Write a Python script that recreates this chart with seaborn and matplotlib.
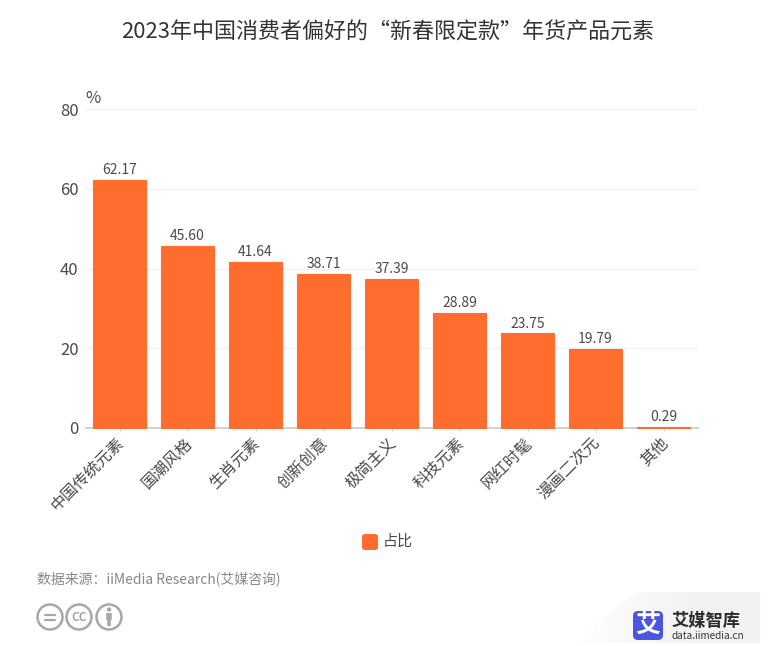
# -*- coding: utf-8 -*-
import numpy as np
import pandas as pd
import matplotlib
matplotlib.use('Agg')
import matplotlib.pyplot as plt
import seaborn as sns
from matplotlib.colors import LinearSegmentedColormap
from matplotlib.patches import Circle, FancyBboxPatch, Polygon
from matplotlib.transforms import ScaledTranslation

categories = ['中国传统元素', '国潮风格', '生肖元素', '创新创意', '极简主义',
              '科技元素', '网红时髦', '漫画二次元', '其他']
values = [62.17, 45.60, 41.64, 38.71, 37.39, 28.89, 23.75, 19.79, 0.29]
value_labels = ['62.17', '45.60', '41.64', '38.71', '37.39', '28.89', '23.75', '19.79', '0.29']
y_ticks = [0, 20, 40, 60, 80]

ORANGE = '#ff6d2e'
GRAY_ICON = '#a8a8a8'
W, H = 772, 646

sns.set_theme(style='white')
plt.rcParams['font.family'] = ['Noto Sans CJK SC', 'DejaVu Sans']

df = pd.DataFrame({'item': categories, 'share': values})

fig = plt.figure(figsize=(W / 100, H / 100), dpi=100, facecolor='white')
ax = fig.add_axes([85.5 / W, 1 - 428 / H, 612 / W, 319 / H])
sns.barplot(data=df, x='item', y='share', color=ORANGE, saturation=1, width=0.79,
            edgecolor=ORANGE, linewidth=0.8, zorder=3, ax=ax)
for bar in ax.patches:
    bar.set_clip_on(False)

ax.set_ylim(0, 80)
ax.set_xlim(-0.5, 8.5)
ax.set_yticks(y_ticks)
ax.set_xlabel('')
ax.set_ylabel('')
ax.yaxis.grid(True, color='#f1f1f1', linewidth=1)
ax.set_axisbelow(True)
sns.despine(ax=ax, left=True)
ax.spines['bottom'].set_color('#cccccc')
ax.spines['bottom'].set_zorder(1)
ax.tick_params(axis='y', length=0, labelsize=12, labelcolor='#4a4a4a', pad=5)
ax.tick_params(axis='x', bottom=True, length=3, width=0.8, color='#dddddd', pad=6)
shift = ScaledTranslation(2 / 100, 0, fig.dpi_scale_trans)
for lab in ax.get_xticklabels():
    lab.set_rotation(45)
    lab.set_ha('right')
    lab.set_va('center')
    lab.set_rotation_mode('anchor')
    lab.set_fontsize(11.5)
    lab.set_color('#4a4a4a')
    lab.set_transform(lab.get_transform() + shift)

for bar, txt in zip(ax.patches, value_labels):
    ax.annotate(txt, (bar.get_x() + bar.get_width() / 2, bar.get_height()),
                xytext=(0, 2), textcoords='offset points', ha='center', va='bottom',
                fontsize=10, color='#4a4a4a', zorder=4)

ax.text(0, 1.006, '%', transform=ax.transAxes, fontsize=12, color='#4a4a4a', ha='left', va='bottom')

fig.text(388 / W, 1 - 33 / H, '2023年中国消费者偏好的“新春限定款”年货产品元素',
         ha='center', va='center', fontsize=15.85, color='#333333')

# 图例
fig.add_artist(FancyBboxPatch((362 / W, 1 - 550 / H), 16 / W, 16 / H,
                              boxstyle='round,pad=0,rounding_size=0.004',
                              transform=fig.transFigure, fc=ORANGE, ec='none'))
fig.text(383 / W, 1 - 542 / H, '占比', ha='left', va='center', fontsize=10.8, color='#4a4a4a')

fig.text(37 / W, 1 - 579 / H, '数据来源：iiMedia Research(艾媒咨询)', ha='left', va='center',
         fontsize=10, color='#888888')

# 右下角和图标都放在一个像素坐标的覆盖层上
deco = fig.add_axes([0, 0, 1, 1], facecolor='none')

corner = Polygon([(575, 643), (622, 602), (640, 592), (760, 592), (760, 643)],
                 fc='none', ec='none', transform=deco.transData)
deco.add_patch(corner)
ramp = np.linspace(0, 1, 64).reshape(1, -1)
img = deco.imshow(ramp, extent=(575, 700, 643, 592), aspect='auto', zorder=1,
                  cmap=LinearSegmentedColormap.from_list('fade', ['#ffffff', '#f3f1f3']))
img.set_clip_path(corner)
deco.add_patch(Polygon([(700, 592), (760, 592), (760, 643), (700, 643)], fc='#f3f1f3', ec='none', zorder=1))
deco.set_xlim(0, W)
deco.set_ylim(H, 0)
deco.axis('off')

for cx in (50, 79, 109):
    deco.add_patch(Circle((cx, 617), 12.5, fc='white', ec=GRAY_ICON, lw=1.8, zorder=2))
deco.plot([45, 55], [614.5, 614.5], color=GRAY_ICON, lw=1.6, zorder=3)
deco.plot([45, 55], [619.5, 619.5], color=GRAY_ICON, lw=1.6, zorder=3)
deco.text(79, 616.5, 'cc', ha='center', va='center', fontsize=11, color='#999999', weight='medium', zorder=3)
deco.add_patch(Circle((109, 609.5), 2.2, fc=GRAY_ICON, ec='none', zorder=3))
deco.plot([109, 109], [613, 620], color=GRAY_ICON, lw=4, solid_capstyle='butt', zorder=3)
deco.plot([109, 109], [620, 625.5], color=GRAY_ICON, lw=2.6, solid_capstyle='butt', zorder=3)

deco.add_patch(FancyBboxPatch((633, 611), 30, 29, boxstyle='round,pad=0,rounding_size=5',
                              fc='#4b55e0', ec='none', zorder=3))
deco.text(648, 625, '艾', ha='center', va='center', fontsize=18, color='white', weight='bold', zorder=4)
deco.text(671, 621, '艾媒智库', ha='left', va='center', fontsize=12.4, color='#2b2b2b', weight='bold', zorder=4)
deco.text(671, 636, 'data.iimedia.cn', ha='left', va='center', fontsize=7.2, color='#333333',
          weight='medium', zorder=4)

fig.savefig('out.png', dpi=100)
